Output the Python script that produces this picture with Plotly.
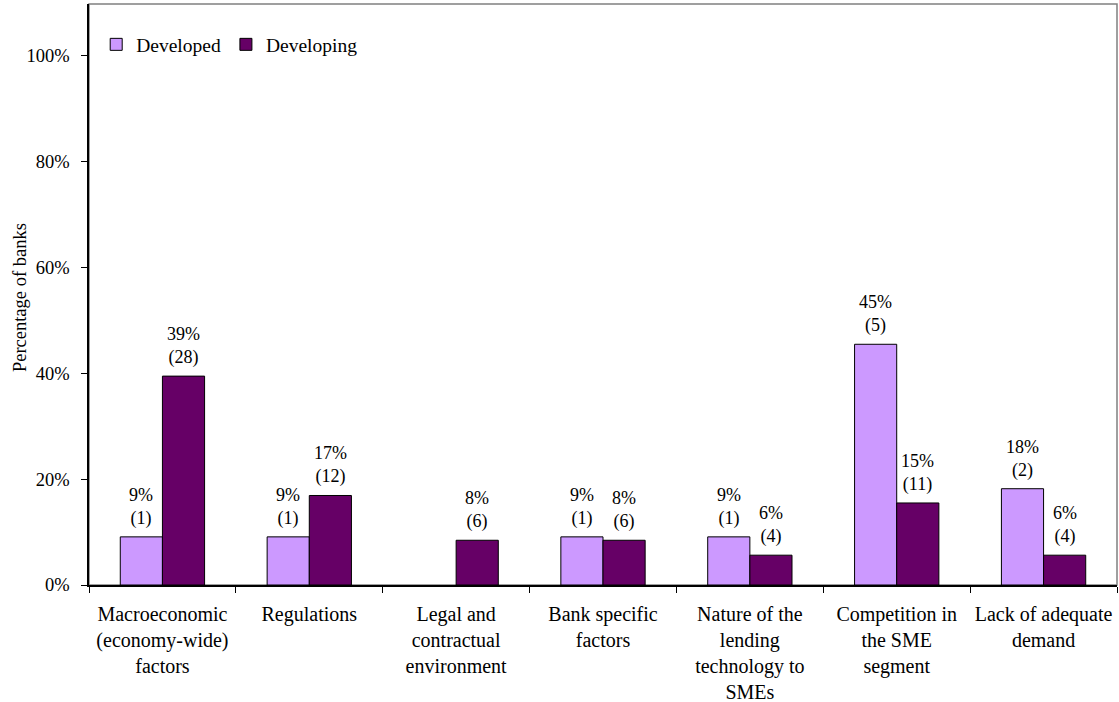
import plotly.graph_objects as go

categories = [
    "Macroeconomic<br>(economy-wide)<br>factors",
    "Regulations",
    "Legal and<br>contractual<br>environment",
    "Bank specific<br>factors",
    "Nature of the<br>lending<br>technology to<br>SMEs",
    "Competition in<br>the SME<br>segment",
    "Lack of adequate<br>demand",
]
developed_share = [0.0909, 0.0909, 0.0, 0.0909, 0.0909, 0.4545, 0.1818]
developed_count = [1, 1, 0, 1, 1, 5, 2]
developing_share = [0.3944, 0.1690, 0.0845, 0.0845, 0.0563, 0.1549, 0.0563]
developing_count = [28, 12, 6, 6, 4, 11, 4]
y_ticks = [0, 0.2, 0.4, 0.6, 0.8, 1.0]
y_tick_labels = ["0%", "20%", "40%", "60%", "80%", "100%"]
y_title = "Percentage of banks"

FONT = "Times New Roman, Liberation Serif, Tinos, DejaVu Serif, serif"

fig = go.Figure()
fig.add_trace(go.Bar(name="Developed", x=categories, y=developed_share,
                     marker=dict(color="#CC99FF",
                                 line=dict(color="black",
                                           width=[1 if v > 0 else 0 for v in developed_share]))))
fig.add_trace(go.Bar(name="Developing", x=categories, y=developing_share,
                     marker=dict(color="#660066",
                                 line=dict(color="black",
                                           width=[1 if v > 0 else 0 for v in developing_share]))))

annotations = []
for shares, counts, shift in [(developed_share, developed_count, -21),
                              (developing_share, developing_count, 21)]:
    for c, v, n in zip(categories, shares, counts):
        if n == 0:
            continue
        annotations.append(dict(
            x=c, y=v, xref="x", yref="y", xshift=shift, yshift=6,
            text=f"{round(v*100)}%<br>({n})", showarrow=False,
            yanchor="bottom", xanchor="center",
            font=dict(family=FONT, size=18, color="black"),
        ))
annotations.append(dict(
    text=y_title, xref="paper", yref="paper", x=-0.067, y=0.494,
    xanchor="center", yanchor="middle", textangle=-90, showarrow=False,
    font=dict(family=FONT, size=18.5, color="black"),
))

fig.update_layout(
    width=1119, height=702,
    margin=dict(l=89, r=2, t=4, b=117),
    paper_bgcolor="white", plot_bgcolor="white",
    font=dict(family=FONT, size=18, color="black"),
    barmode="group", bargap=0.426, bargroupgap=0,
    showlegend=True,
    legend=dict(orientation="h", x=0.007, y=0.93, xanchor="left", yanchor="middle",
                bgcolor="rgba(0,0,0,0)", font=dict(family=FONT, size=19.5),
                itemwidth=30, traceorder="normal"),
    annotations=annotations,
    shapes=[dict(type="rect", xref="paper", yref="paper", x0=0, y0=0, x1=1, y1=1,
                 line=dict(color="#808080", width=1.5), layer="below")],
)
fig.update_xaxes(
    type="category", tickson="boundaries", ticks="outside", ticklen=6,
    tickcolor="black", showline=True, linecolor="black", linewidth=1.5,
    showgrid=False, tickfont=dict(family=FONT, size=20), ticklabelstandoff=10,
    automargin=False,
)
fig.update_yaxes(
    range=[0, 1.097], tickvals=y_ticks, ticktext=y_tick_labels,
    ticks="outside", ticklen=6, tickcolor="black",
    showline=True, linecolor="black", linewidth=1.5, showgrid=False, zeroline=False,
    tickfont=dict(family=FONT, size=18.5), ticklabelstandoff=8,
    automargin=False,
)

fig.write_html(
    "out.html",
    config={"displayModeBar": False},
    post_script="document.body.style.margin='0';document.body.style.padding='0';",
)
